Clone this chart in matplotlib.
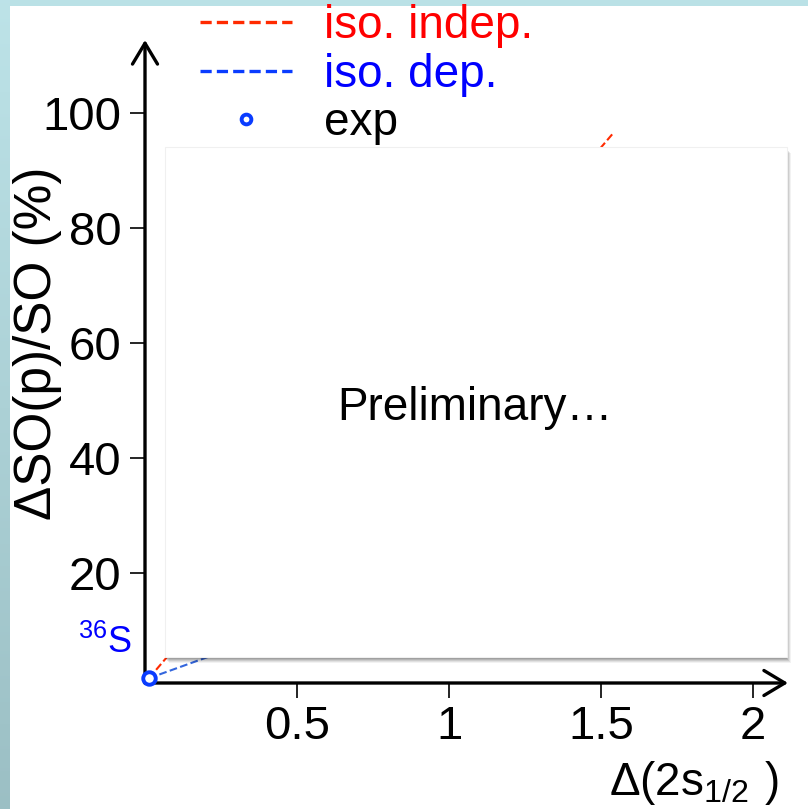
import matplotlib
matplotlib.use('Agg')
import matplotlib.pyplot as plt
import numpy as np
from matplotlib.patches import Rectangle
from matplotlib.lines import Line2D

plt.rcParams['font.family'] = ['Liberation Sans', 'DejaVu Sans']
plt.rcParams['mathtext.fontset'] = 'custom'
plt.rcParams['mathtext.rm'] = 'Liberation Sans'
plt.rcParams['mathtext.default'] = 'regular'

# data
indep_x = [0.013, 1.54]
indep_y = [1.7, 96.5]
dep_x = [0.013, 1.55]
dep_y = [1.7, 31.0]
exp_x = [0.013]
exp_y = [1.7]
xticks = [0.5, 1, 1.5, 2]
xticklabels = ['0.5', '1', '1.5', '2']
yticks = [20, 40, 60, 80, 100]
yticklabels = ['20', '40', '60', '80', '100']

W, H = 808, 809
def fx(px):
    return px / W
def fy(py):
    return 1 - py / H

fig = plt.figure(figsize=(W / 100, H / 100), dpi=100)
fig.patch.set_facecolor('white')

# slide border (top strip + left gradient strip)
fig.add_artist(Rectangle((0, fy(6)), 1, 6 / H, transform=fig.transFigure,
                         facecolor='#bae1e6', edgecolor='none', zorder=-5))
gax = fig.add_axes([0, 0, fx(10), 1], zorder=-4)
grad = np.linspace(0, 1, 256).reshape(-1, 1)
gcols = np.array([[0.74, 0.89, 0.91], [0.61, 0.75, 0.77]])
img = gcols[0] * (1 - grad[..., None]) + gcols[1] * grad[..., None]
gax.imshow(img, aspect='auto', extent=(0, 1, 1, 0))
gax.set_axis_off()

ax = fig.add_axes([fx(145), fy(683), fx(788) - fx(145), (683 - 40) / H])
ax.set_xlim(0, 2.115)
ax.set_ylim(0.87, 112.7)
ax.patch.set_alpha(0)
for s in ax.spines.values():
    s.set_visible(False)

# axes with arrow heads
arw = dict(arrowstyle='->,head_length=0.75,head_width=0.45', lw=2.4,
           color='black', shrinkA=0, shrinkB=0, mutation_scale=20)
ax.annotate('', xy=(0, 1), xytext=(0, 0), xycoords='axes fraction',
            arrowprops=arw, annotation_clip=False)
ax.annotate('', xy=(1, 0), xytext=(0, 0), xycoords='axes fraction',
            arrowprops=arw, annotation_clip=False)

ax.set_xticks(xticks)
ax.set_xticklabels(xticklabels)
ax.set_yticks(yticks)
ax.set_yticklabels(yticklabels)
ax.tick_params(axis='both', direction='out', length=11, width=1.2,
               labelsize=34, colors='black')
ax.tick_params(axis='x', pad=5)
ax.tick_params(axis='y', pad=6)

ax.plot(indep_x, indep_y, ls='--', color='#ff2a00', lw=1.5, zorder=2)
ax.plot(dep_x, dep_y, ls='--', color='#3366dd', lw=1.5, zorder=2)
ax.plot(exp_x, exp_y, ls='none', marker='o', ms=9, mew=2.8,
        mfc='white', mec='#0a3cff', clip_on=False, zorder=3)

ax.text(-0.043, 6.1, r'$^{36}$S', color='#0000ff', fontsize=26,
        ha='right', va='baseline')

# legend
handles = [Line2D([], [], color='#ff2a00', lw=2.4, dashes=(3.36, 1.54)),
           Line2D([], [], color='#0a3cff', lw=2.4, dashes=(3.36, 1.54)),
           Line2D([], [], ls='none', marker='o', ms=7, mew=2.8,
                  mfc='white', mec='#0a3cff')]
labels = ['iso. indep.', 'iso. dep.', 'exp']
fig.legend(handles, labels, loc='upper left', bbox_to_anchor=(fx(200), fy(4)),
           frameon=False, fontsize=33, handlelength=2.0, handletextpad=0.7,
           labelspacing=0.1, borderpad=0, borderaxespad=0, numpoints=1,
           labelcolor=['#ff0000', '#0000ff', 'black'])

# axis titles
fig.text(fx(38), fy(343), 'ΔSO(p)/SO (%)', rotation=90, fontsize=37,
         ha='center', va='center')
fig.text(fx(779), fy(795), r'$\Delta(2s_{1/2}\ )$', fontsize=33,
         ha='right', va='baseline')

# overlay box with shadow
bx0, by0, bx1, by1 = 165, 147, 787, 657
for i, a in enumerate([0.05, 0.07, 0.09, 0.11, 0.13]):
    off = 6 - i
    fig.add_artist(Rectangle((fx(bx0 + off - 2), fy(by1 + off)),
                             (bx1 - bx0) / W, (by1 - by0) / H,
                             transform=fig.transFigure, facecolor='black',
                             edgecolor='none', alpha=a, zorder=4))
fig.add_artist(Rectangle((fx(bx0), fy(by1)), (bx1 - bx0) / W, (by1 - by0) / H,
                         transform=fig.transFigure, facecolor='white',
                         edgecolor='#f0f0f0', lw=0.8, zorder=5))
fig.text(fx(475), fy(420), 'Preliminary…', fontsize=33, ha='center',
         va='baseline', zorder=6)

fig.savefig('out.png', dpi=100)
